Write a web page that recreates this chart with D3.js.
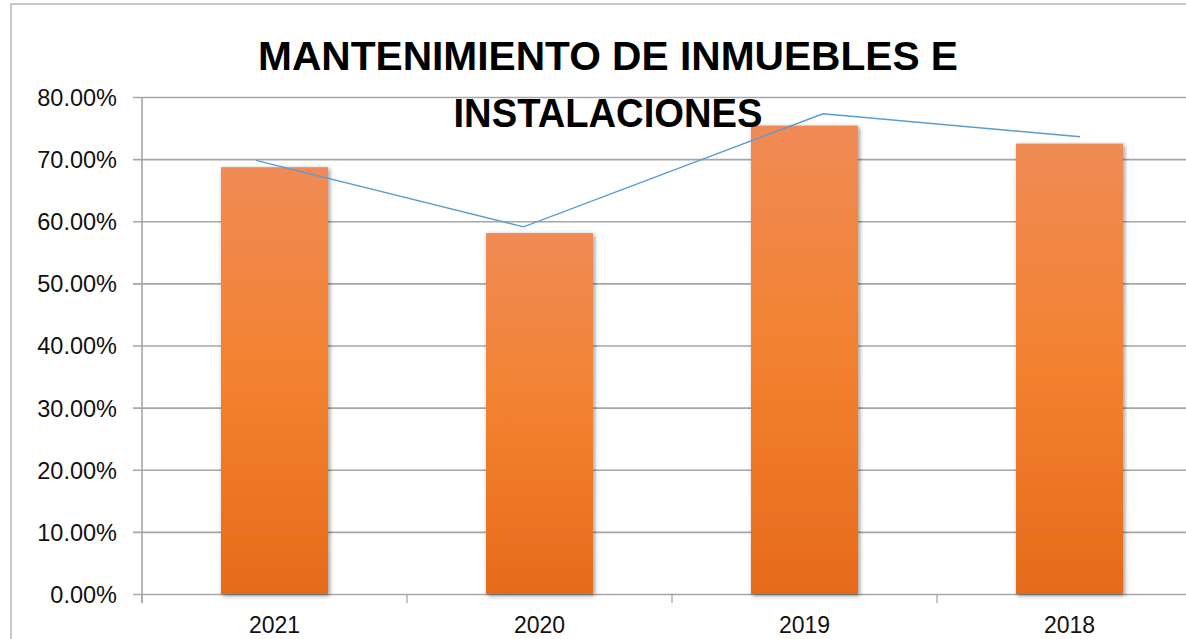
<!DOCTYPE html>
<html>
<head>
<meta charset="utf-8">
<script src="https://cdn.jsdelivr.net/npm/d3@7"></script>
<style>
  body { margin: 0; background: #fff; }
  text { font-family: "Liberation Sans", Arial, sans-serif; }
</style>
</head>
<body>
<div id="chart"></div>
<script>
// data
var years = ["2021", "2020", "2019", "2018"];
var barValues = [0.687, 0.581, 0.754, 0.725];
var lineValues = [0.698, 0.591, 0.773, 0.736];
// where the line's points sit along the category axis (in category units)
var linePos = [0.43, 1.44, 2.57, 3.54];
var yTicks = [0, 0.1, 0.2, 0.3, 0.4, 0.5, 0.6, 0.7, 0.8];
var titleLines = ["MANTENIMIENTO DE INMUEBLES E", "INSTALACIONES"];

var width = 1186, height = 639;
var plot = { left: 142, right: 1202, top: 97, bottom: 594 };

var svg = d3.select("#chart").append("svg")
  .attr("width", width)
  .attr("height", height);

var defs = svg.append("defs");
var grad = defs.append("linearGradient")
  .attr("id", "barGrad")
  .attr("x1", 0).attr("y1", 0).attr("x2", 0).attr("y2", 1);
grad.append("stop").attr("offset", "0%").attr("stop-color", "#F08B55");
grad.append("stop").attr("offset", "50%").attr("stop-color", "#F3812F");
grad.append("stop").attr("offset", "100%").attr("stop-color", "#E66B1A");

var shadow = defs.append("filter")
  .attr("id", "shadow")
  .attr("x", "-20%").attr("y", "-5%")
  .attr("width", "140%").attr("height", "110%");
shadow.append("feDropShadow")
  .attr("dx", 1.5).attr("dy", 1.5)
  .attr("stdDeviation", 2.2)
  .attr("flood-color", "#000")
  .attr("flood-opacity", 0.45);

// outer chart border
svg.append("rect")
  .attr("x", 11).attr("y", 4)
  .attr("width", 1300).attr("height", 700)
  .attr("fill", "none")
  .attr("stroke", "#B5B5B5")
  .attr("stroke-width", 1.5);

var yScale = d3.scaleLinear()
  .domain([0, 0.8])
  .range([plot.bottom, plot.top]);

var xScale = d3.scaleBand()
  .domain(years)
  .range([plot.left, plot.right])
  .paddingInner(0.596)
  .paddingOuter(0.298);

var xPos = d3.scaleLinear()
  .domain([0, years.length])
  .range([plot.left, plot.right]);

// gridlines + left ticks
var yAxis = d3.axisLeft(yScale)
  .tickValues(yTicks)
  .tickSize(-(plot.right - plot.left) - 9)
  .tickFormat(function(d) { return (d * 100).toFixed(2) + "%"; });

var gy = svg.append("g")
  .attr("class", "y-axis")
  .attr("transform", "translate(" + (plot.left - 9) + ",0)")
  .call(yAxis);
gy.select(".domain").remove();
gy.selectAll(".tick line")
  .attr("stroke", "#A6A6A6")
  .attr("stroke-width", 1.6);
gy.selectAll(".tick text")
  .attr("x", -16)
  .attr("dy", "0.36em")
  .style("font-size", "23.5px")
  .attr("fill", "#111");

// left axis line
svg.append("line")
  .attr("x1", plot.left).attr("x2", plot.left)
  .attr("y1", plot.top).attr("y2", plot.bottom + 9)
  .attr("stroke", "#A6A6A6")
  .attr("stroke-width", 1.6);

// bottom category ticks at band boundaries
svg.append("g")
  .selectAll("line")
  .data(d3.range(years.length + 1))
  .enter()
  .append("line")
  .attr("x1", function(d) { return xPos(d); })
  .attr("x2", function(d) { return xPos(d); })
  .attr("y1", plot.bottom)
  .attr("y2", plot.bottom + 9)
  .attr("stroke", "#A6A6A6")
  .attr("stroke-width", 1.3);

// bars
svg.append("g")
  .selectAll("rect")
  .data(barValues)
  .enter()
  .append("rect")
  .attr("x", function(d, i) { return xScale(years[i]); })
  .attr("y", function(d) { return yScale(d); })
  .attr("width", xScale.bandwidth())
  .attr("height", function(d) { return yScale(0) - yScale(d); })
  .attr("fill", "url(#barGrad)")
  .attr("filter", "url(#shadow)");

// x labels
svg.append("g")
  .selectAll("text")
  .data(years)
  .enter()
  .append("text")
  .attr("x", function(d) { return xScale(d) + xScale.bandwidth() / 2; })
  .attr("y", 633)
  .attr("text-anchor", "middle")
  .style("font-size", "23px")
  .attr("fill", "#111")
  .text(function(d) { return d; });

// line series
svg.append("path")
  .datum(lineValues)
  .attr("fill", "none")
  .attr("stroke", "#5B9BD5")
  .attr("stroke-width", 1.4)
  .attr("d", d3.line()
    .x(function(d, i) { return xPos(linePos[i]); })
    .y(function(d) { return yScale(d); })
  );

// title
var titleLen = [700, 309];
var titleY = [70, 127];
svg.append("g")
  .selectAll("text")
  .data(titleLines)
  .enter()
  .append("text")
  .attr("x", 608)
  .attr("y", function(d, i) { return titleY[i]; })
  .attr("text-anchor", "middle")
  .attr("textLength", function(d, i) { return titleLen[i]; })
  .attr("lengthAdjust", "spacingAndGlyphs")
  .style("font-size", "40px")
  .style("font-weight", "bold")
  .attr("fill", "#000")
  .text(function(d) { return d; });
</script>
</body>
</html>
